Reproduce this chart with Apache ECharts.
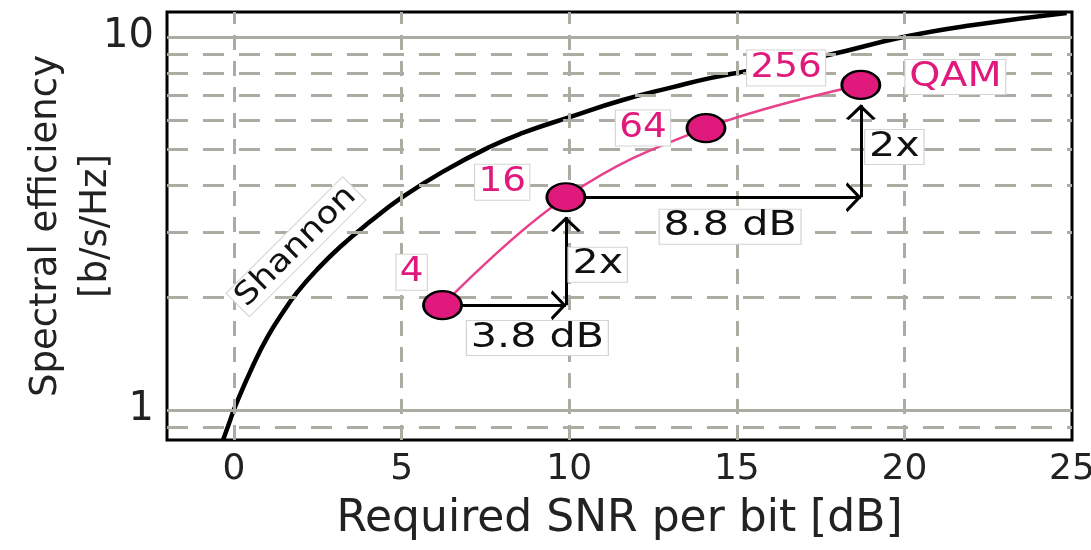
<!DOCTYPE html>
<html><head><meta charset="utf-8">
<script src="https://cdn.jsdelivr.net/npm/echarts@6/dist/echarts.min.js"></script>
<style>html,body{margin:0;padding:0;background:#fff}#c{width:1091px;height:550px}</style>
</head><body><div id="c"></div>
<script>
// ---- data ----
const xTickLabels = [0, 5, 10, 15, 20, 25];
const yTickLabels = [1, 10];
const xGridLines = [0, 5, 10, 15, 20];
const yGridMajor = [1, 10];
const yGridMinor = [0.9, 2, 3, 4, 5, 6, 7, 8, 9];
const shannonSNR = [-0.33, -0.15, 0.03, 0.54, 1.0, 1.5, 1.87, 2.46, 3.17, 4.04, 5.02, 6.22, 7.62, 8.61, 10.01, 11.60, 13.09, 14.20, 15.28, 17.73, 19.97, 22.06, 24.84];
const shannonEff = [0.83, 0.92, 1.02, 1.30, 1.57, 1.85, 2.06, 2.37, 2.74, 3.19, 3.72, 4.35, 5.07, 5.53, 6.10, 6.78, 7.34, 7.76, 8.10, 8.95, 10.0, 10.77, 11.6];
const qamOrders = ['4', '16', '64', '256'];
const qamSNR = [6.22, 9.9, 14.08, 18.7];
const qamEff = [1.91, 3.72, 5.70, 7.44];
const arrowFrom = [[6.22, 1.91], [9.9, 1.91], [9.9, 3.72], [18.7, 3.72]];
const arrowTo = [[9.9, 1.91], [9.9, 3.29], [18.7, 3.72], [18.7, 6.57]];
const noteTexts = ['Shannon', '4', '16', '64', '256', 'QAM', '3.8 dB', '2x', '8.8 dB', '2x'];
const noteAnchors = [[1.85, 2.74], [5.3, 2.34], [8.0, 4.08], [12.2, 5.70], [16.47, 8.26], [21.52, 7.81], [9.05, 1.56], [10.85, 2.45], [14.8, 3.10], [19.7, 5.07]];

// ---- styles ----
const PINK = '#e0197d';
const GRID = '#acaca3';
const FONT = '"DejaVu Sans", Verdana, sans-serif';
const noteStyle = [
  {color: '#111', size: 31, sx: 1.15, rot: 45},
  {color: PINK, size: 34, sx: 1.1, rot: 0},
  {color: PINK, size: 34, sx: 1.1, rot: 0},
  {color: PINK, size: 34, sx: 1.1, rot: 0},
  {color: PINK, size: 34, sx: 1.1, rot: 0},
  {color: PINK, size: 33, sx: 1.2, rot: 0},
  {color: '#111', size: 33, sx: 1.25, rot: 0},
  {color: '#111', size: 33, sx: 1.25, rot: 0},
  {color: '#111', size: 33, sx: 1.25, rot: 0},
  {color: '#111', size: 33, sx: 1.25, rot: 0}
];

const chart = echarts.init(document.getElementById('c'), null, {renderer: 'canvas'});

const gridLineData = [];
xGridLines.forEach(v => gridLineData.push({xAxis: v, lineStyle: {color: GRID, width: 3, type: [15, 11]}}));
yGridMajor.forEach(v => gridLineData.push({yAxis: v, lineStyle: {color: GRID, width: 3, type: 'solid'}}));
yGridMinor.forEach(v => gridLineData.push({yAxis: v, lineStyle: {color: GRID, width: 3, type: [21, 15]}}));

// open chevron whose tip sits at the centre of its bounding box (tiny speck at top extends the box)
const chevron = 'path://M9.97,0 L10.03,0 L10,0.06 Z M3,20 L10,10 L17,20 L15.6,21 L10,13 L4.4,21 Z';
const arrowData = arrowFrom.map((f, i) => [{coord: f}, {coord: arrowTo[i]}]);

chart.setOption({
  animation: false,
  backgroundColor: '#fff',
  grid: {left: 167, right: 19, top: 12, bottom: 110, outerBoundsMode: 'none', containLabel: false,
         show: true, borderColor: '#000', borderWidth: 3, backgroundColor: '#fff'},
  xAxis: {
    type: 'value', min: -2, max: 25,
    axisLine: {show: false}, axisTick: {show: false}, splitLine: {show: false},
    axisLabel: {
      fontSize: 36, color: '#222', fontFamily: FONT, margin: 12,
      formatter: v => xTickLabels.indexOf(v) >= 0 ? String(v) : ''
    },
    name: 'Required SNR per bit [dB]', nameLocation: 'middle', nameGap: 58, nameMoveOverlap: false,
    nameTextStyle: {fontSize: 44, color: '#222', fontFamily: FONT}
  },
  yAxis: {
    type: 'log', min: 0.831, max: 11.67, logBase: 10,
    axisLine: {show: false}, axisTick: {show: false}, splitLine: {show: false},
    axisLabel: {
      fontSize: 40, color: '#222', fontFamily: FONT, margin: 13,
      formatter: v => yTickLabels.some(t => Math.abs(t - v) < 1e-6) ? String(Math.round(v)) : ''
    },
    name: 'Spectral efficiency\n[b/s/Hz]', nameLocation: 'middle', nameGap: 46, nameRotate: 90, nameMoveOverlap: false,
    nameTextStyle: {fontSize: 37, lineHeight: 50, color: '#222', fontFamily: FONT}
  },
  series: [
    {
      type: 'line', z: 1, silent: true, showSymbol: false, data: [[0, 1]], lineStyle: {opacity: 0},
      markLine: {silent: true, symbol: ['none', 'none'], label: {show: false}, animation: false, data: gridLineData}
    },
    {
      name: 'Shannon', type: 'line', z: 3, smooth: 0.5, showSymbol: false,
      data: shannonSNR.map((x, i) => [x, shannonEff[i]]),
      lineStyle: {color: '#000', width: 4.5}
    },
    {
      type: 'line', z: 4, silent: true, showSymbol: false, data: [[0, 1]], lineStyle: {opacity: 0},
      markLine: {
        silent: true, symbol: ['none', chevron], symbolSize: 30, label: {show: false}, animation: false,
        lineStyle: {color: '#000', width: 3, type: 'solid'}, itemStyle: {color: '#000'}, data: arrowData
      }
    },
    {
      name: 'QAM', type: 'line', z: 5, smooth: 0.4, symbol: 'circle', symbolSize: [38, 28], showSymbol: true,
      data: qamSNR.map((x, i) => ({value: [x, qamEff[i]], name: qamOrders[i]})),
      lineStyle: {color: '#e8408a', width: 2.5},
      itemStyle: {color: PINK, borderColor: '#000', borderWidth: 2.5}
    }
  ]
});

function placeNotes() {
  const els = noteTexts.map((t, i) => {
    const p = chart.convertToPixel({gridIndex: 0}, noteAnchors[i]);
    const s = noteStyle[i];
    return {
      type: 'text', x: p[0], y: p[1], rotation: s.rot * Math.PI / 180, scaleX: s.sx, z: 20, silent: true,
      style: {
        text: t, fill: s.color, font: s.size + 'px ' + FONT, align: 'center', verticalAlign: 'middle',
        backgroundColor: '#fff', borderColor: '#d4d4d4', borderWidth: 1, padding: [1, 3, 0, 3]
      }
    };
  });
  chart.setOption({graphic: {elements: els}});
}
placeNotes();
</script>
</body></html>
